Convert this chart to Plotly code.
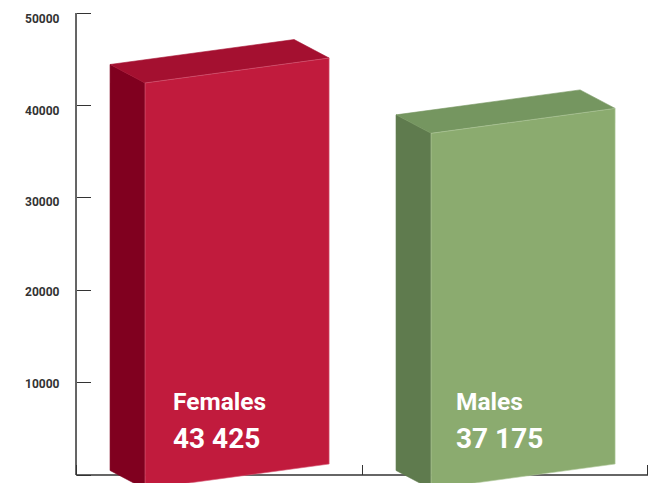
import plotly.graph_objects as go

# --- data ---
categories = ["Females", "Males"]
labels = ["43 425", "37 175"]
drawn_tops = [43780, 38330]      # at the middle of each front top edge
y_ticks = [0, 10000, 20000, 30000, 40000, 50000]
y_tick_labels = ["", "10000", "20000", "30000", "40000", "50000"]
x_edges = [-0.5, 0.5, 1.5]

# --- style ---
FONT = "Roboto"
front = ["#C11B3D", "#8BAB6F"]
side = ["#80001F", "#5F7B4E"]
top = ["#A41030", "#759660"]
edge = ["#D9607A", "#B4CBA0"]
label_nudge = [0, 1.5, 2, 4, 6, 5.5]   # tick label offset in px

HALF_SPAN = 0.383      # half of the whole box width, in bands
SHIFT = 0.002          # small offset of the box in its band
DEPTH_X = 0.1224       # depth of the box, in bands
DEPTH_Y = 2000         # depth rise, in axis units
TILT = 1350            # half of the front face's rise, in axis units
BASE = -160

Y_MIN, Y_MAX = -866, 51410
X_MIN, X_MAX = -0.521, 1.521

fig = go.Figure()


def face(xs, ys, color, name, line=None):
    fig.add_trace(go.Scatter(
        x=xs, y=ys, mode="lines", fill="toself", fillcolor=color,
        line=dict(color=line or color, width=0.6), hoverinfo="skip",
        showlegend=False, name=name,
    ))


# axis lines
fig.add_trace(go.Scatter(x=[x_edges[0], x_edges[0]], y=[y_ticks[0], y_ticks[-1]], mode="lines",
                         line=dict(color="#333333", width=1.5),
                         hoverinfo="skip", showlegend=False))
fig.add_trace(go.Scatter(x=[x_edges[0], x_edges[-1]], y=[y_ticks[0], y_ticks[0]], mode="lines",
                         line=dict(color="#333333", width=1.5),
                         hoverinfo="skip", showlegend=False))

for i, cat in enumerate(categories):
    h = drawn_tops[i]
    xl = i - HALF_SPAN + SHIFT    # back-left x
    xf = xl + DEPTH_X             # front-left x
    xr = i + HALF_SPAN + SHIFT    # front-right x
    # left face
    face([xl, xf, xf, xl, xl],
         [h - TILT + DEPTH_Y, h - TILT, BASE - TILT, BASE - TILT + DEPTH_Y, h - TILT + DEPTH_Y],
         side[i], cat + " side")
    # top face
    face([xl, xf, xr, xr - DEPTH_X, xl],
         [h - TILT + DEPTH_Y, h - TILT, h + TILT, h + TILT + DEPTH_Y, h - TILT + DEPTH_Y],
         top[i], cat + " top")
    # front face
    face([xf, xr, xr, xf, xf],
         [h - TILT, h + TILT, BASE + TILT, BASE - TILT, h - TILT],
         front[i], cat + " front", edge[i])

annotations = []
for v, t, n in zip(y_ticks, y_tick_labels, label_nudge):
    if t:
        annotations.append(dict(
            x=x_edges[0], y=v, xref="x", yref="y", text=t, showarrow=False,
            xanchor="right", yanchor="middle", xshift=-14, yshift=-n,
            font=dict(family=FONT, size=12, color="#333333", weight="bold"),
        ))
for i, (cat, lab) in enumerate(zip(categories, labels)):
    xf = i - HALF_SPAN + DEPTH_X
    for text, yv, size in ((cat, 7950, 24.5), (lab, 3900, 28)):
        annotations.append(dict(
            x=xf + (0.098 if i == 0 else 0.088), y=yv, xref="x", yref="y", text=text,
            showarrow=False, xanchor="left", yanchor="middle", xshift=-2,
            font=dict(family=FONT, size=size, color="#FFFFFF", weight="bold"),
        ))

fig.update_layout(
    width=654, height=483,
    margin=dict(l=70, r=0, t=0, b=0, pad=0),
    paper_bgcolor="white", plot_bgcolor="white",
    showlegend=False,
    annotations=annotations,
    xaxis=dict(
        range=[X_MIN, X_MAX], anchor="free", position=(0 - Y_MIN) / (Y_MAX - Y_MIN),
        tickmode="array", tickvals=x_edges, ticktext=[""] * len(x_edges),
        ticks="inside", ticklen=10, tickwidth=1.2, tickcolor="#333333",
        showline=False, showgrid=False, zeroline=False, layer="below traces",
    ),
    yaxis=dict(
        range=[Y_MIN, Y_MAX], anchor="free", position=(x_edges[0] - X_MIN) / (X_MAX - X_MIN),
        tickmode="array", tickvals=y_ticks, ticktext=[""] * len(y_ticks),
        ticks="inside", ticklen=14, tickwidth=1.2, tickcolor="#333333",
        showline=False, showgrid=False, zeroline=False, layer="below traces",
    ),
)

fig.write_html("out.html", config={"displayModeBar": False},
               post_script="document.body.style.margin='0';")
